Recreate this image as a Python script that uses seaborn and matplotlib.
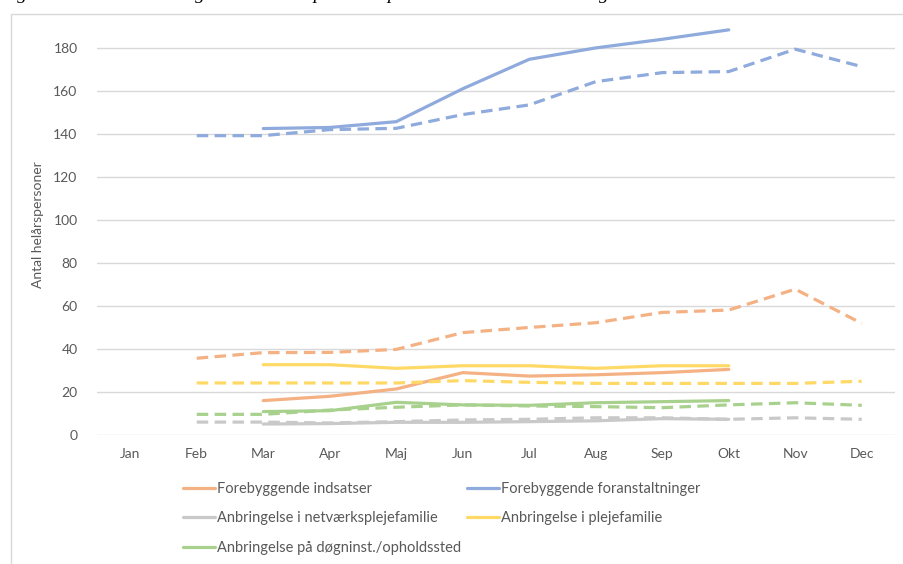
import numpy as np
import pandas as pd
import seaborn as sns
import matplotlib.pyplot as plt
from matplotlib.lines import Line2D

sns.set_theme(style="white")
plt.rcParams['font.family'] = ['Lato', 'DejaVu Sans']

#%% Data
months = ["Jan", "Feb", "Mar", "Apr", "Maj", "Jun", "Jul", "Aug", "Sep", "Okt", "Nov", "Dec"]
nan = np.nan

series_names = [
    "Forebyggende indsatser",
    "Forebyggende foranstaltninger",
    "Anbringelse i netværksplejefamilie",
    "Anbringelse i plejefamilie",
    "Anbringelse på døgninst./opholdssted",
]
series_colors = ["#F4B183", "#8FAADC", "#C9C9C9", "#FFD966", "#A9D18E"]

# solid lines (current year)
indsatser_cur = [nan, nan, 16, 18, 21.4, 29, 27.4, 28, 29, 30.5, nan, nan]
foranst_cur = [nan, nan, 142.5, 143, 145.7, 161, 174.7, 180, 184, 188.4, nan, nan]
netvaerk_cur = [nan, nan, 5.1, 5.3, 5.9, 5.9, 6.2, 6.6, 7.6, 7.3, nan, nan]
pleje_cur = [nan, nan, 32.7, 32.7, 31, 32.2, 32.2, 31, 32.2, 32.2, nan, nan]
doegn_cur = [nan, nan, 10.9, 11.3, 15.2, 14, 13.8, 15, 15.5, 16, nan, nan]

# dashed lines (previous year)
indsatser_prev = [nan, 35.7, 38.3, 38.4, 39.8, 47.6, 50, 52.2, 57, 58.1, 67.8, 51.9]
foranst_prev = [nan, 139.2, 139.2, 142, 142.6, 149, 153.5, 164.3, 168.5, 169, 179.4, 171.3]
netvaerk_prev = [nan, 6, 6, 5.6, 6.2, 7, 7.3, 8, 8, 7.3, 8, 7.3]
pleje_prev = [nan, 24.2, 24.2, 24.2, 24.2, 25.3, 24.5, 24, 24, 24, 24, 25]
doegn_prev = [nan, 9.6, 9.6, 11.6, 12.9, 14, 13.5, 13.2, 12.7, 14, 15, 13.8]

cur = [indsatser_cur, foranst_cur, netvaerk_cur, pleje_cur, doegn_cur]
prev = [indsatser_prev, foranst_prev, netvaerk_prev, pleje_prev, doegn_prev]

rows = []
for name, vals_prev, vals_cur in zip(series_names, prev, cur):
    for periode, vals in (("sidste", vals_prev), ("aktuel", vals_cur)):
        for i, v in enumerate(vals):
            if not np.isnan(v):
                rows.append({"serie": name, "periode": periode, "maaned": i, "antal": v})
df = pd.DataFrame(rows)

#%% Plot
fig = plt.figure(figsize=(9.04, 5.64), dpi=100)
ax = fig.add_axes([97 / 904, 1 - 435 / 564, 798 / 904, 420 / 564])

sns.lineplot(data=df, x="maaned", y="antal", hue="serie", style="periode",
             hue_order=series_names, palette=dict(zip(series_names, series_colors)),
             dashes={"aktuel": "", "sidste": (3.6, 2.0)},
             estimator=None, sort=False, linewidth=2.3, legend=False, ax=ax, zorder=3)

ax.set_xlim(-0.5, 11.5)
ax.set_ylim(0, 195.3)
ax.set_xticks(range(12))
ax.set_xticklabels(months)
ax.set_yticks(range(0, 181, 20))
ax.grid(axis="y", color="#D9D9D9", linewidth=1)
for s in ax.spines.values():
    s.set_visible(False)
ax.tick_params(axis="both", length=0, labelsize=10, labelcolor="#595959")
ax.tick_params(axis="y", pad=14)
ax.tick_params(axis="x", pad=9)
ax.set_xlabel("")
ax.set_ylabel("Antal helårspersoner", fontsize=10, color="#595959")
ax.yaxis.set_label_coords(-0.066, 0.5)

# legend (solid lines only)
handles = [Line2D([], [], color=c, linewidth=2.3) for c in series_colors]
order = [0, 2, 4, 1, 3]
fig.legend([handles[i] for i in order], [series_names[i] for i in order],
           loc="upper left", bbox_to_anchor=(183 / 904, 1 - 482 / 564),
           ncol=2, frameon=False, fontsize=10.5, labelcolor="#595959",
           handlelength=2.2, handletextpad=0.1, labelspacing=1.05,
           columnspacing=0.45, borderpad=0, borderaxespad=0)

# chart frame and cut-off caption above it
fig.add_artist(Line2D([11 / 904, 11 / 904], [0, 1 - 14 / 564], color="#D9D9D9", linewidth=1))
fig.add_artist(Line2D([11 / 904, 1], [1 - 14 / 564, 1 - 14 / 564], color="#D9D9D9", linewidth=1))
fig.text(0.0, 1 + 1 / 564,
         "Figur 3: Faktisk udvikling i antal helårspersoner på tilbudsområdet i 2020 og 2021",
         family="Liberation Serif", style="italic", fontsize=14, color="black",
         va="baseline", ha="left")

fig.savefig("out.png", dpi=100)
